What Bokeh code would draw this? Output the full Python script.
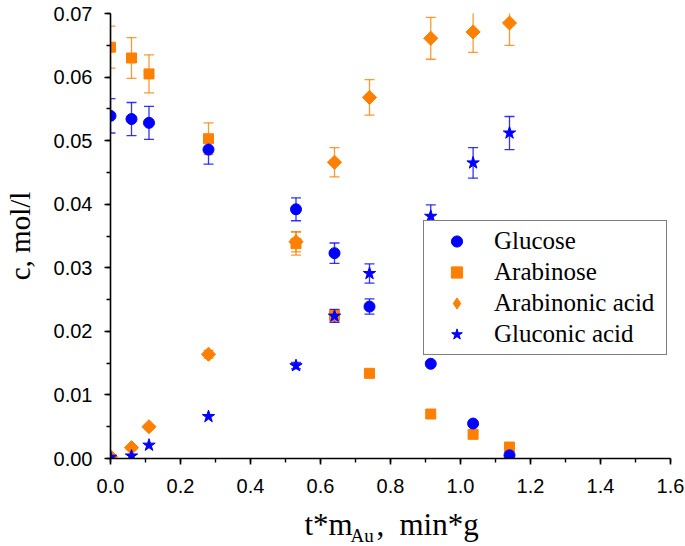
import numpy as np
from bokeh.plotting import figure
from bokeh.layouts import column
from bokeh.models import (ColumnDataSource, Whisker, TeeHead, Legend, LegendItem, Label,
                          SingleIntervalTicker, NumeralTickFormatter, Range1d)
from bokeh.embed import file_html
from bokeh.resources import INLINE

# ---- data ----
x_vals = [0.0, 0.06, 0.11, 0.28, 0.53, 0.64, 0.74, 0.915, 1.036, 1.14]

glucose = [0.0539, 0.0534, 0.0528, 0.0486, 0.0392, 0.0323, 0.0239, 0.0149, 0.0055, 0.0005]
glucose_err = [0.0027, 0.0026, 0.0026, 0.0023, 0.0018, 0.0016, 0.0012, 0.0003, 0.0, 0.0]

arabinose = [0.0647, 0.0630, 0.0605, 0.0503, 0.0338, 0.0225, 0.0134, 0.0070, 0.0038, 0.0018]
arabinose_err = [0.0033, 0.0032, 0.0030, 0.0025, 0.0018, 0.0010, 0.0, 0.0, 0.0, 0.0]

arabinonic = [0.0003, 0.0017, 0.0050, 0.0164, 0.0341, 0.0466, 0.0568, 0.0661, 0.0671, 0.0685]
arabinonic_err = [0.0, 0.0, 0.0, 0.0006, 0.0016, 0.0023, 0.0028, 0.0033, 0.0032, 0.0035]

gluconic = [0.0002, 0.0004, 0.0021, 0.0066, 0.0146, 0.0224, 0.0291, 0.0381, 0.0465, 0.0512]
gluconic_err = [0.0, 0.0, 0.0, 0.0, 0.0005, 0.0010, 0.0015, 0.0018, 0.0024, 0.0026]

series_names = ["Glucose", "Arabinose", "Arabinonic acid", "Gluconic acid"]
y_title = "c, mol/l"
x_title_parts = ["t*m", "Au", ",", "min*g"]

BLUE = "#0000FF"
ORANGE = "#FF8000"
SERIF = "Liberation Serif"
SANS = "Liberation Sans"

FRAME_W = 560
BORDER_L = 110
BORDER_R = 15

p = figure(frame_width=FRAME_W, frame_height=445,
           min_border_left=BORDER_L, min_border_right=BORDER_R, min_border_top=13,
           min_border_bottom=50,
           x_range=Range1d(0, 1.6), y_range=Range1d(0, 0.07),
           output_backend="svg", toolbar_location=None)
p.grid.visible = False
p.outline_line_color = None
p.background_fill_color = "white"
p.border_fill_color = "white"

# axes
p.xaxis.ticker = SingleIntervalTicker(interval=0.2, num_minor_ticks=2)
p.yaxis.ticker = SingleIntervalTicker(interval=0.01, num_minor_ticks=2)
p.xaxis.formatter = NumeralTickFormatter(format="0.0")
p.yaxis.formatter = NumeralTickFormatter(format="0.00")
for ax in (p.xaxis, p.yaxis):
    ax.axis_line_color = "black"
    ax.axis_line_width = 1.6
    ax.major_tick_line_color = "black"
    ax.major_tick_line_width = 1.6
    ax.minor_tick_line_color = "black"
    ax.minor_tick_line_width = 1.4
    ax.major_tick_out = 6
    ax.major_tick_in = 0
    ax.minor_tick_out = 4
    ax.minor_tick_in = 0
    ax.major_label_text_font = SANS
    ax.major_label_text_font_size = "20px"
    ax.major_label_text_color = "black"
p.yaxis.major_label_standoff = 12
p.xaxis.major_label_standoff = 14

p.yaxis.axis_label = y_title
p.yaxis.axis_label_text_font = SERIF
p.yaxis.axis_label_text_font_size = "29px"
p.yaxis.axis_label_text_font_style = "normal"
p.yaxis.axis_label_text_color = "black"
p.yaxis.axis_label_standoff = 15


def add_errors(xs, ys, errs, color):
    xs_e = [x for x, e in zip(xs, errs) if e > 0]
    up = [y + e for y, e in zip(ys, errs) if e > 0]
    lo = [y - e for y, e in zip(ys, errs) if e > 0]
    src = ColumnDataSource(dict(x=xs_e, upper=up, lower=lo))
    w = Whisker(base="x", upper="upper", lower="lower", source=src,
                line_color=color, line_width=1.3, line_alpha=0.8, level="underlay",
                upper_head=TeeHead(size=10, line_color=color, line_width=1.3, line_alpha=0.8),
                lower_head=TeeHead(size=10, line_color=color, line_width=1.3, line_alpha=0.8))
    p.add_layout(w)


add_errors(x_vals, arabinose, arabinose_err, ORANGE)
add_errors(x_vals, arabinonic, arabinonic_err, ORANGE)
add_errors(x_vals, glucose, glucose_err, BLUE)
add_errors(x_vals, gluconic, gluconic_err, BLUE)

r_ara = p.scatter(x_vals, arabinose, marker="square", size=10, color=ORANGE)
r_arac = p.scatter(x_vals, arabinonic, marker="square", size=10, angle=np.pi / 4, color=ORANGE)
r_glu = p.scatter(x_vals, glucose, marker="circle", size=11, color=BLUE)
r_gluc = p.scatter(x_vals, gluconic, marker="star", size=13, color=BLUE)
# legend proxy for the diamond series (legend glyphs ignore marker angle); zero size in plot
r_arac_leg = p.scatter(x_vals, arabinonic, marker="diamond", size=0, color=ORANGE)

legend = Legend(items=[LegendItem(label=series_names[0], renderers=[r_glu]),
                       LegendItem(label=series_names[1], renderers=[r_ara]),
                       LegendItem(label=series_names[2], renderers=[r_arac_leg]),
                       LegendItem(label=series_names[3], renderers=[r_gluc])],
                location=(313, 103), margin=0, padding=6, spacing=3,
                glyph_width=53, glyph_height=28, label_height=24, label_width=166,
                label_standoff=11,
                label_text_font=SERIF, label_text_font_size="25px", label_text_color="black",
                border_line_color="black", border_line_width=1.2,
                background_fill_color="white", background_fill_alpha=1.0)
p.add_layout(legend)

# x-axis title with subscript, drawn in a thin strip below the chart (frame aligned with p)
q = figure(frame_width=FRAME_W, frame_height=38,
           min_border_left=BORDER_L, min_border_right=BORDER_R, min_border_top=0, min_border_bottom=0,
           x_range=Range1d(0, 1), y_range=Range1d(0, 1),
           x_axis_type=None, y_axis_type=None,
           output_backend="svg", toolbar_location=None)
q.outline_line_color = None
q.grid.visible = False
lab_kw = dict(x_units="screen", y_units="screen", text_font=SERIF,
              text_color="black", text_baseline="alphabetic", text_align="left")
q.add_layout(Label(x=194, y=22, text=x_title_parts[0], text_font_size="31px", **lab_kw))
q.add_layout(Label(x=240, y=11, text=x_title_parts[1], text_font_size="19px", **lab_kw))
q.add_layout(Label(x=266, y=22, text=x_title_parts[2], text_font_size="31px", **lab_kw))
q.add_layout(Label(x=289, y=22, text=x_title_parts[3], text_font_size="31px", **lab_kw))

layout = column(p, q, spacing=0)
open("out.html", "w").write(file_html(layout, INLINE))
